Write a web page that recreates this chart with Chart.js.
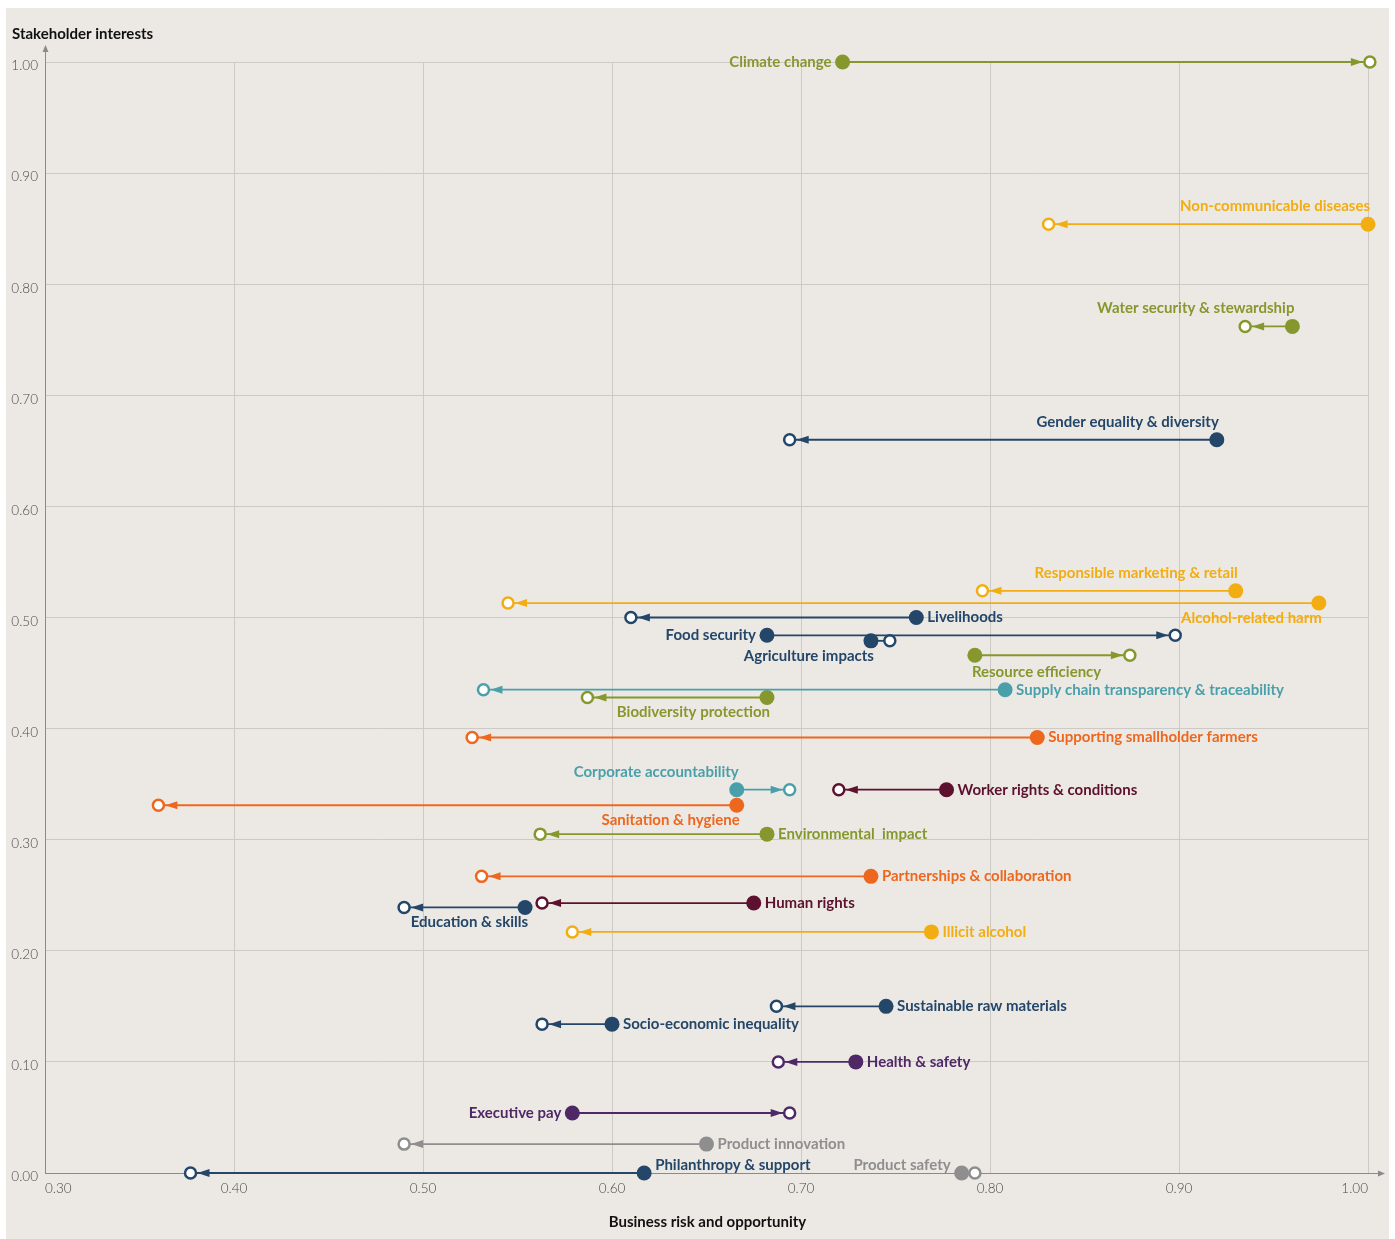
<!DOCTYPE html>
<html>
<head>
<meta charset="utf-8">
<script src="https://cdn.jsdelivr.net/npm/chart.js@4"></script>
<style>
  html, body { margin: 0; padding: 0; background: #ffffff; }
  #wrap { position: relative; width: 1395px; height: 1239px; }
</style>
</head>
<body>
<div id="wrap"><canvas id="c" width="1395" height="1239"></canvas></div>
<script>
// ---- data ----
const categories = [
  "Climate change", "Non-communicable diseases", "Water security & stewardship",
  "Gender equality & diversity", "Responsible marketing & retail", "Alcohol-related harm",
  "Livelihoods", "Food security", "Agriculture impacts", "Resource efficiency",
  "Supply chain transparency & traceability", "Biodiversity protection",
  "Supporting smallholder farmers", "Corporate accountability", "Worker rights & conditions",
  "Sanitation & hygiene", "Environmental  impact", "Partnerships & collaboration",
  "Human rights", "Education & skills", "Illicit alcohol", "Sustainable raw materials",
  "Socio-economic inequality", "Health & safety", "Executive pay", "Product innovation",
  "Philanthropy & support", "Product safety"
];
// business risk & opportunity: from (filled) -> to (open)
const riskFrom = [0.722, 1.000, 0.960, 0.920, 0.930, 0.974, 0.761, 0.682, 0.737, 0.792,
                  0.808, 0.682, 0.825, 0.666, 0.777, 0.666, 0.682, 0.737, 0.675, 0.554,
                  0.769, 0.745, 0.600, 0.729, 0.579, 0.650, 0.617, 0.785];
const riskTo   = [1.001, 0.831, 0.935, 0.694, 0.796, 0.545, 0.610, 0.898, 0.747, 0.874,
                  0.532, 0.587, 0.526, 0.694, 0.720, 0.360, 0.562, 0.531, 0.563, 0.490,
                  0.579, 0.687, 0.563, 0.688, 0.694, 0.490, 0.377, 0.792];
// stakeholder interests
const interest = [1.000, 0.854, 0.762, 0.660, 0.524, 0.513, 0.500, 0.484, 0.479, 0.466,
                  0.435, 0.428, 0.392, 0.345, 0.345, 0.331, 0.305, 0.267, 0.243, 0.239,
                  0.217, 0.150, 0.134, 0.100, 0.054, 0.026, 0.000, 0.000];
const xTicks = [0.30, 0.40, 0.50, 0.60, 0.70, 0.80, 0.90, 1.00];
const yTicks = [0.00, 0.10, 0.20, 0.30, 0.40, 0.50, 0.60, 0.70, 0.80, 0.90, 1.00];

// ---- styles ----
const PAL = {
  olive: "#86982d", amber: "#f2ad12", navy: "#234669", teal: "#4aa0aa",
  orange: "#ee671e", maroon: "#5c112e", purple: "#4f2866", grey: "#8e8e8e"
};
const itemColor = ["olive","amber","olive","navy","amber","amber","navy","navy","navy","olive",
                   "teal","olive","orange","teal","maroon","orange","olive","orange","maroon","navy",
                   "amber","navy","navy","purple","purple","grey","navy","grey"].map(k => PAL[k]);
// label placement relative to filled point
const labelPos = ["L","A","A","A","A","B","R","L","B","BL",
                  "R","B","R","A","R","B","R","R","R","B",
                  "R","R","R","R","L","R","RU","LU"];

const LABEL_FONT = "700 15px Lato, 'Open Sans', sans-serif";

const bgPlugin = {
  id: "bg",
  beforeDraw(chart) {
    const ctx = chart.ctx;
    ctx.save();
    ctx.fillStyle = "#ffffff";
    ctx.fillRect(0, 0, chart.width, chart.height);
    ctx.fillStyle = "#ece9e4";
    ctx.fillRect(6, 8, 1383, 1231);
    ctx.restore();
  }
};

const decoPlugin = {
  id: "deco",
  afterDraw(chart) {
    const ctx = chart.ctx;
    const a = chart.chartArea;
    ctx.save();
    ctx.strokeStyle = "#8a8a8a"; ctx.fillStyle = "#8a8a8a"; ctx.lineWidth = 1;
    ctx.beginPath(); ctx.moveTo(a.left + 0.5, a.top); ctx.lineTo(a.left + 0.5, a.top - 12); ctx.stroke();
    ctx.beginPath(); ctx.moveTo(a.left + 0.5, a.top - 17); ctx.lineTo(a.left - 2.5, a.top - 10); ctx.lineTo(a.left + 3.5, a.top - 10); ctx.closePath(); ctx.fill();
    ctx.beginPath(); ctx.moveTo(a.right, a.bottom + 0.5); ctx.lineTo(a.right + 12, a.bottom + 0.5); ctx.stroke();
    ctx.beginPath(); ctx.moveTo(a.right + 17, a.bottom + 0.5); ctx.lineTo(a.right + 10, a.bottom - 2.5); ctx.lineTo(a.right + 10, a.bottom + 3.5); ctx.closePath(); ctx.fill();

    ctx.fillStyle = "#111111";
    ctx.font = "700 15px Lato, 'Open Sans', sans-serif";
    ctx.textBaseline = "middle";
    ctx.textAlign = "left";
    ctx.fillText("Stakeholder interests", 12, 34);
    ctx.textAlign = "center";
    ctx.fillText("Business risk and opportunity", (a.left + a.right) / 2 + 1, 1222);
    ctx.restore();
  }
};

const arrowPlugin = {
  id: "arrows",
  afterDatasetsDraw(chart) {
    const ctx = chart.ctx;
    ctx.save();
    chart.data.datasets.forEach((ds, i) => {
      const meta = chart.getDatasetMeta(i);
      const p0 = meta.data[0], p1 = meta.data[1];
      const dx = p1.x - p0.x;
      if (Math.abs(dx) < 28) return;
      const dir = Math.sign(dx);
      const tip = p1.x - dir * 7;
      const base = tip - dir * 12;
      ctx.fillStyle = itemColor[i];
      ctx.beginPath();
      ctx.moveTo(tip, p1.y);
      ctx.lineTo(base, p1.y - 4);
      ctx.lineTo(base, p1.y + 4);
      ctx.closePath();
      ctx.fill();
    });
    ctx.restore();
  }
};

const labelPlugin = {
  id: "labels",
  afterDatasetsDraw(chart) {
    const ctx = chart.ctx;
    ctx.save();
    ctx.font = LABEL_FONT;
    ctx.textBaseline = "middle";
    categories.forEach((name, i) => {
      const p = chart.getDatasetMeta(i).data[0];
      let x = p.x, y = p.y, align = "left";
      switch (labelPos[i]) {
        case "L":  align = "right"; x -= 11; break;
        case "R":  align = "left";  x += 11; break;
        case "A":  align = "right"; x += 2;  y -= 18; break;
        case "B":  align = "right"; x += 3;  y += 15; break;
        case "BL": align = "left";  x -= 3;  y += 17; break;
        case "RU": align = "left";  x += 11; y -= 8; break;
        case "LU": align = "right"; x -= 11; y -= 8; break;
      }
      ctx.textAlign = align;
      ctx.fillStyle = itemColor[i];
      ctx.fillText(name, x, y);
    });
    ctx.restore();
  }
};

const datasets = categories.map((name, i) => ({
  label: name,
  data: [{ x: riskFrom[i], y: interest[i] }, { x: riskTo[i], y: interest[i] }],
  showLine: true,
  borderColor: itemColor[i],
  borderWidth: 1.8,
  pointBackgroundColor: [itemColor[i], "#ffffff"],
  pointBorderColor: itemColor[i],
  pointBorderWidth: [0, 2.5],
  pointRadius: [7.5, 5.5],
  pointHoverRadius: [7.5, 5.5],
  clip: false
}));

new Chart(document.getElementById("c"), {
  type: "scatter",
  data: { datasets },
  plugins: [bgPlugin, decoPlugin, arrowPlugin, labelPlugin],
  options: {
    responsive: false,
    animation: false,
    events: [],
    layout: { padding: { left: 0, right: 27, top: 62, bottom: 36 } },
    plugins: { legend: { display: false }, tooltip: { enabled: false } },
    scales: {
      x: {
        type: "linear", min: xTicks[0], max: xTicks[xTicks.length - 1],
        afterFit(s) { s.height = 30; },
        afterBuildTicks(s) { s.ticks = xTicks.map(v => ({ value: v })); },
        grid: { color: "#cdc9c4", lineWidth: 1, drawTicks: false },
        border: { display: true, color: "#8a8a8a", width: 1 },
        ticks: {
          align: "inner", padding: 8, color: "#4a4a4a",
          font: { family: "Lato, 'Open Sans', sans-serif", size: 13.5, weight: "300" },
          callback: v => Number(v).toFixed(2)
        }
      },
      y: {
        type: "linear", min: yTicks[0], max: yTicks[yTicks.length - 1],
        afterFit(s) { s.width = 45; },
        afterBuildTicks(s) { s.ticks = yTicks.map(v => ({ value: v })); },
        grid: { color: "#cdc9c4", lineWidth: 1, drawTicks: false },
        border: { display: true, color: "#8a8a8a", width: 1 },
        ticks: {
          padding: 7, color: "#4a4a4a", labelOffset: 4,
          font: { family: "Lato, 'Open Sans', sans-serif", size: 13.5, weight: "300" },
          callback: v => Number(v).toFixed(2)
        }
      }
    }
  }
});
</script>
</body>
</html>
